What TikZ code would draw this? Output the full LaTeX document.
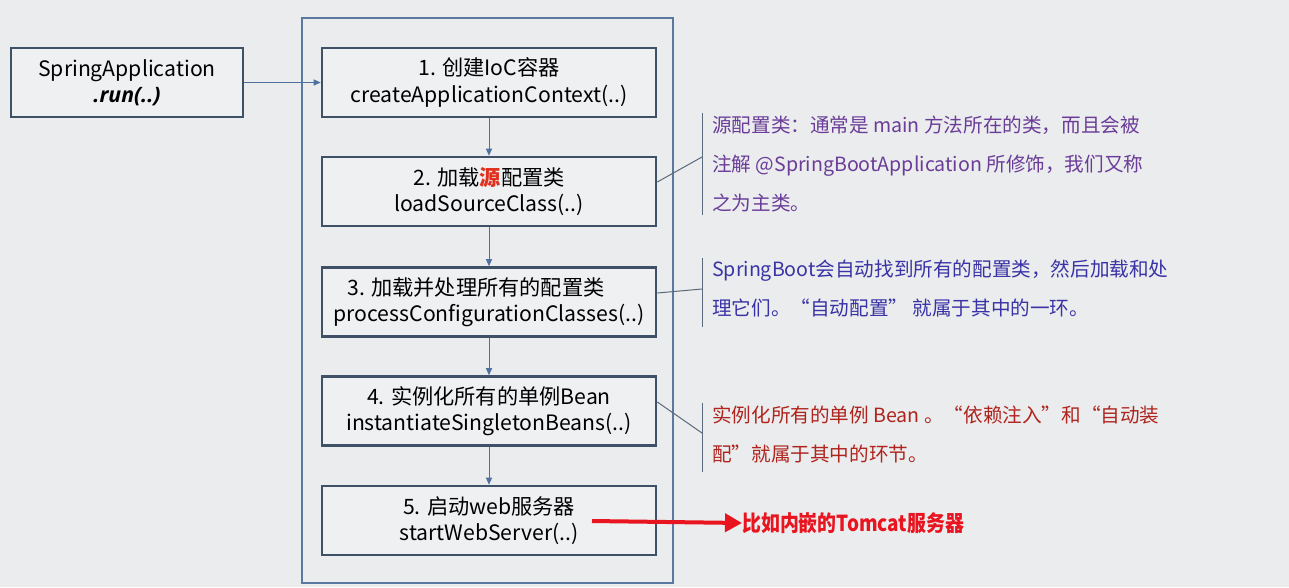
\documentclass[tikz,border=0pt]{standalone}
\usepackage{fontspec}
\setmainfont{Noto Sans CJK SC}
\newfontfamily\latinf{Open Sans}
\usetikzlibrary{arrows.meta}
\definecolor{bg}{HTML}{EAECED}
\definecolor{boxfill}{HTML}{EEF0F2}
\definecolor{boxline}{HTML}{3E5166}
\definecolor{arrowc}{HTML}{4E71A0}
\definecolor{outerc}{HTML}{5A78A0}
\definecolor{purplet}{HTML}{6B3C98}
\definecolor{bluet}{HTML}{3A33A6}
\definecolor{redt}{HTML}{B0241E}
\definecolor{redarrow}{HTML}{E8141F}
\definecolor{srcred}{HTML}{E0301E}
\definecolor{bracketc}{HTML}{5A6A7A}
\tikzset{
  stepbox/.style={draw=boxline, line width=2.6pt, fill=boxfill, minimum width=334pt, minimum height=69pt, align=center, inner sep=0pt, font=\fontsize{21.2}{26.5}\selectfont, text=black},
  flow/.style={draw=arrowc, line width=1pt, -{Triangle[length=7pt,width=6pt]}},
  note/.style={anchor=north west, align=left, inner sep=0pt, font=\fontsize{19.6}{39}\selectfont},
  lead/.style={draw=bracketc, line width=1pt},
}
\begin{document}
\begin{tikzpicture}[x=1pt,y=-1pt]
\fill[bg] (0,0) rectangle (1289,587);
\useasboundingbox (0,0) rectangle (1289,587);
% outer container
\draw[outerc, line width=1.3pt] (302,18) rectangle (673,583);
% left box
\node[stepbox, minimum width=232pt] (app) at (127,82.5) {SpringApplication\\{\latinf\bfseries\itshape .run(..)}};
% steps
\node[stepbox] (s1) at (489,82.5) {1. 创建IoC容器\\createApplicationContext(..)};
\node[stepbox] (s2) at (489,191.5) {2. 加载{\bfseries\color{srcred}源}配置类\\loadSourceClass(..)};
\node[stepbox] (s3) at (489,302) {3. 加载并处理所有的配置类\hspace*{26pt}\\processConfigurationClasses(..)};
\node[stepbox] (s4) at (489,411) {4. 实例化所有的单例Bean\\instantiateSingletonBeans(..)};
\node[stepbox] (s5) at (489,520.5) {5. 启动web服务器\\startWebServer(..)};
\draw[flow] (app) -- (s1);
\draw[flow] (s1) -- (s2);
\draw[flow] (s2) -- (s3);
\draw[flow] (s3) -- (s4);
\draw[flow] (s4) -- (s5);
% annotation 1
\coordinate (c1) at (702,157);
\draw[lead] (702,113) -- (702,215);
\draw[lead] (s2.east |- 0,182) -- (c1);
\node[note, text=purplet] (n1) at (712,116) {源配置类：通常是 main 方法所在的类，而且会被\\注解 @SpringBootApplication 所修饰，我们又称\\之为主类。};
% annotation 2
\coordinate (c2) at (702,289);
\draw[lead] (702,258) -- (702,327);
\draw[lead] (s3.east |- 0,293) -- (c2);
\node[note, text=bluet] (n2) at (712,260) {SpringBoot会自动找到所有的配置类，然后加载和处\\理它们。“自动配置” 就属于其中的一环。};
% annotation 3
\coordinate (c3) at (702,433);
\draw[lead] (702,403) -- (702,472);
\draw[lead] (s4.east |- 0,402) -- (c3);
\node[note, text=redt] (n3) at (712,406) {实例化所有的单例 Bean 。“依赖注入”和“自动装\\配”就属于其中的环节。};
% red arrow
\coordinate (r0) at (592,521);
\node[anchor=west, inner sep=0pt, text=redarrow, font=\fontsize{22}{26}\selectfont\bfseries] (tom) at (742,523) {\scalebox{0.86}[1]{比如内嵌的Tomcat服务器}};
\draw[redarrow, line width=4pt, -{Triangle[length=17pt,width=18pt]}] (r0) -- (tom.west);
\end{tikzpicture}
\end{document}
